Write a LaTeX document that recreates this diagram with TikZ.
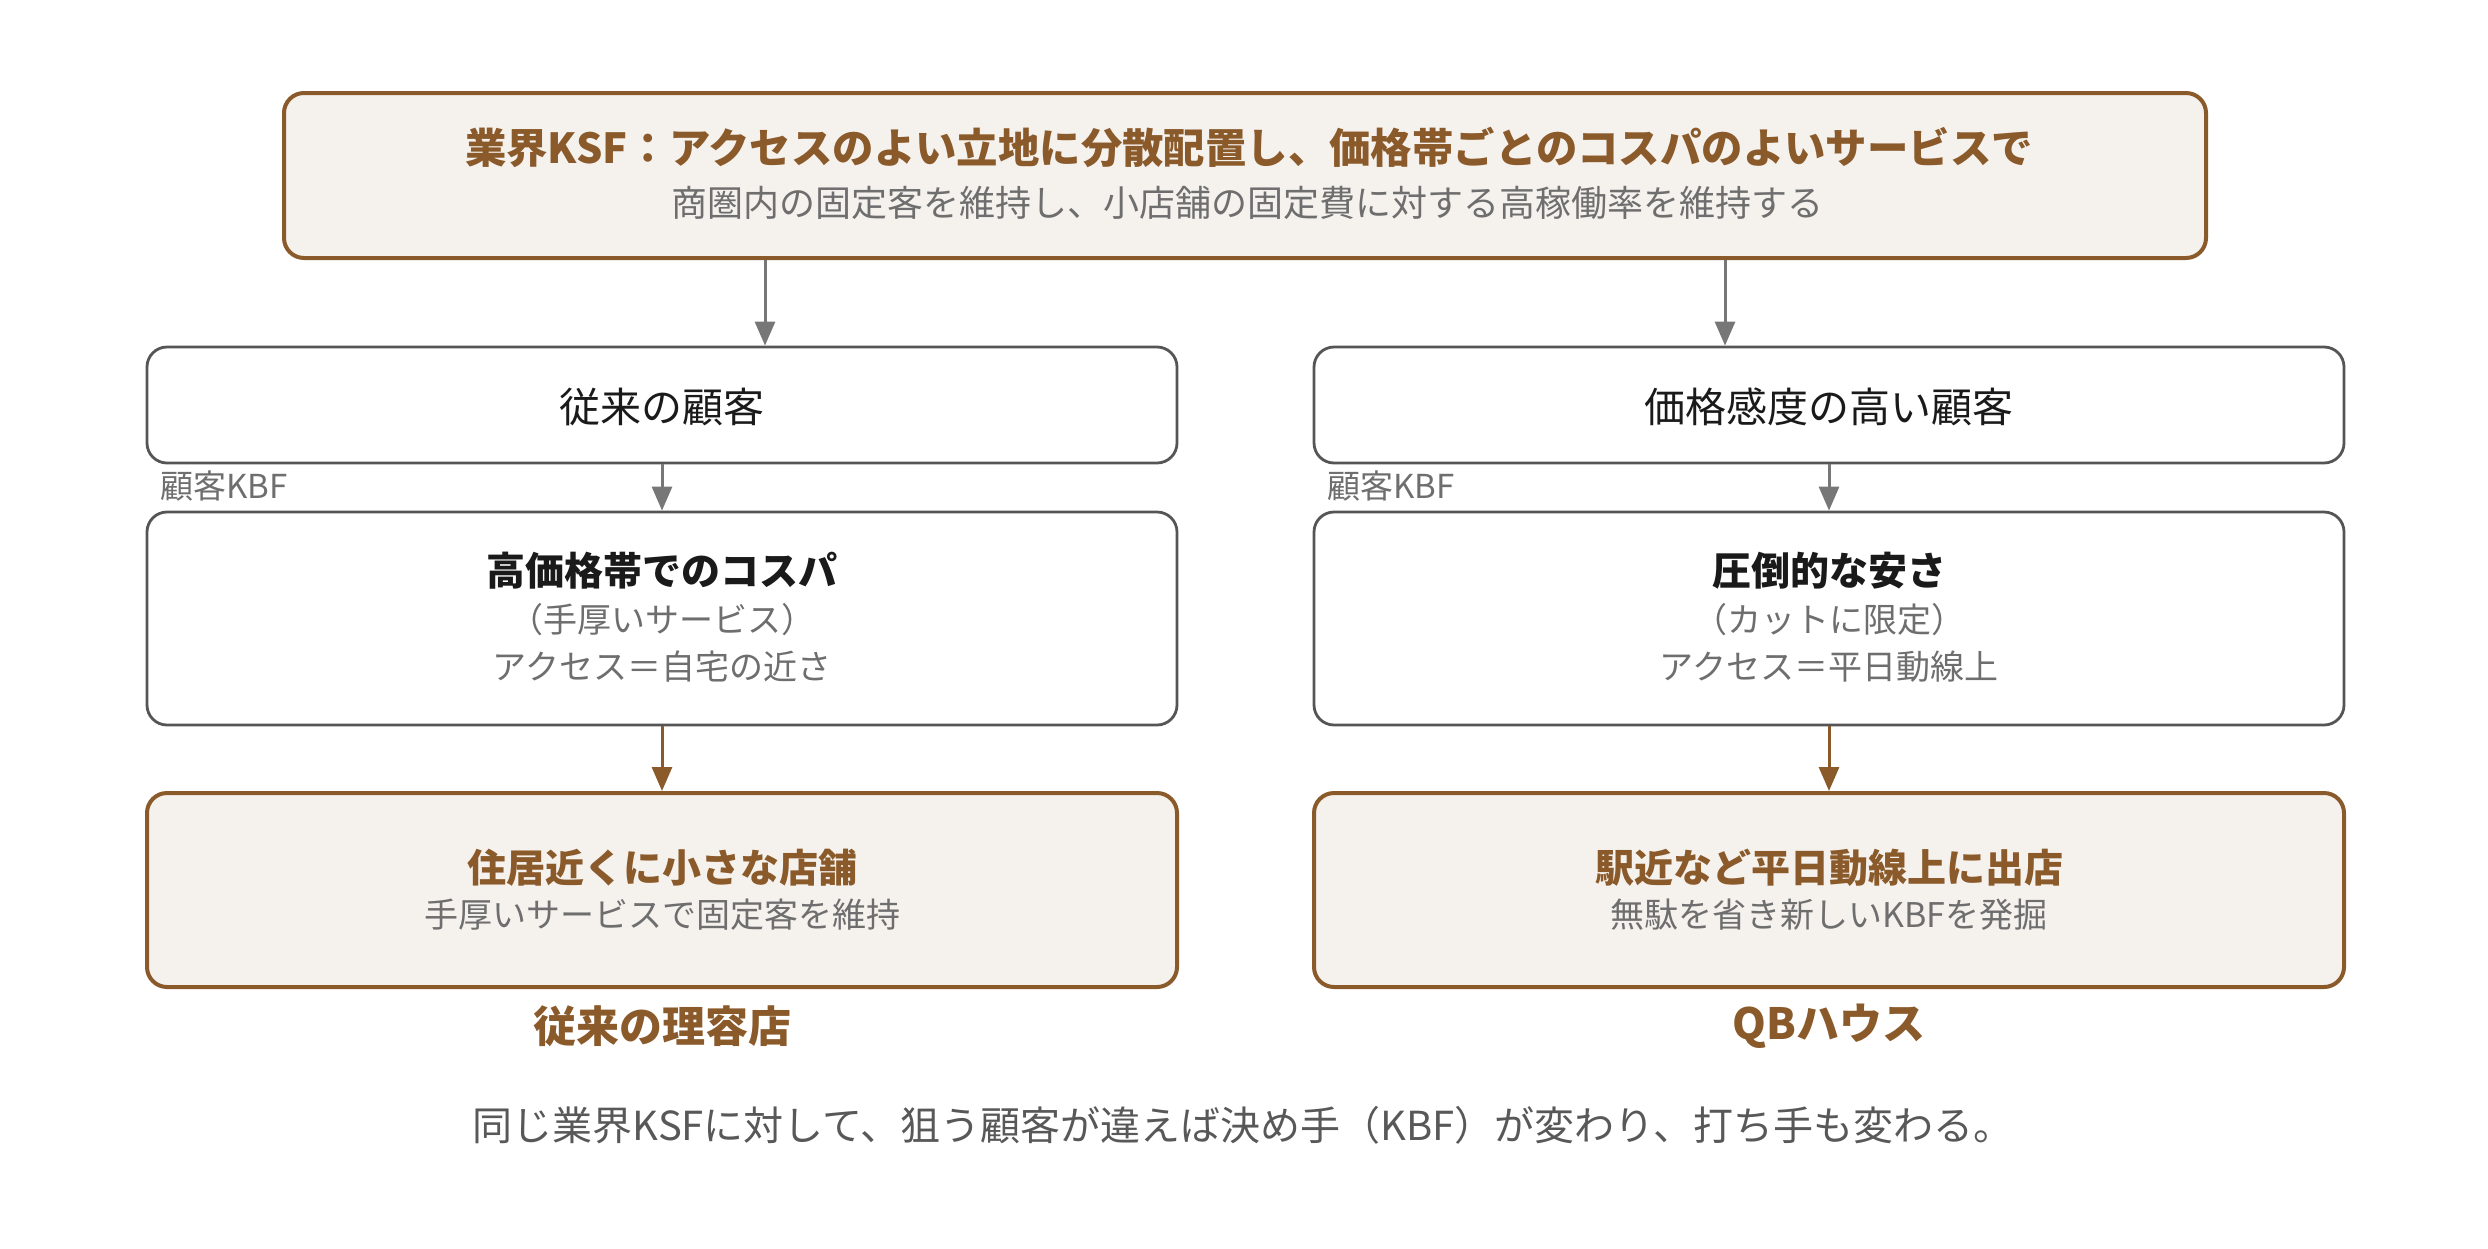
\documentclass[tikz,border=0pt]{standalone}
\usepackage{fontspec}
\setmainfont{Noto Sans CJK JP}
\usetikzlibrary{arrows.meta}
\definecolor{brn}{HTML}{8B5A2B}
\definecolor{beige}{HTML}{F5F2EE}
\definecolor{gline}{HTML}{777777}
\definecolor{bline}{HTML}{555555}
\definecolor{gtext}{HTML}{6E6E6E}
\definecolor{ktext}{HTML}{1A1A1A}
\tikzset{
  brownbox/.style={draw=brn, line width=2pt, fill=beige, rounded corners=10pt, inner sep=0pt},
  whitebox/.style={draw=bline, line width=1.4pt, fill=white, rounded corners=10pt, inner sep=0pt},
  garr/.style={draw=gline, line width=1.5pt, -{Triangle[length=12pt,width=10pt]}},
  barr/.style={draw=brn, line width=1.5pt, -{Triangle[length=12pt,width=10pt]}},
  txt/.style={inner sep=0pt, anchor=center},
  fs/.style={font=\fontsize{#1}{#1}\selectfont},
  fsb/.style={font=\fontsize{#1}{#1}\selectfont\bfseries}
}
\begin{document}
\begin{tikzpicture}[x=0.5pt,y=-0.5pt]
\useasboundingbox (0,0) rectangle (2488,1248);
% top box
\node[brownbox, minimum width=961pt, minimum height=82.5pt] (top) at (1245,175.5) {};
\node[txt, fsb=20.7pt, text=brn] (toptitle) at (1249,147) {業界KSF：アクセスのよい立地に分散配置し、価格帯ごとのコスパのよいサービスで};
\node[txt, fs=18pt, text=gtext] (topsub) at (1247,203) {商圏内の固定客を維持し、小店舗の固定費に対する高稼働率を維持する};
% row 1
\node[whitebox, minimum width=515pt, minimum height=58pt] (l1) at (662,405) {};
\node[whitebox, minimum width=515pt, minimum height=58pt] (r1) at (1829,405) {};
\node[txt, fs=20.5pt, text=ktext] (l1t) at (662,407) {従来の顧客};
\node[txt, fs=20.5pt, text=ktext] (r1t) at (1829,407) {価格感度の高い顧客};
% KBF labels
\node[inner sep=0pt, anchor=west, fs=16.5pt, text=gtext] (lk) at (160,486) {顧客KBF};
\node[inner sep=0pt, anchor=west, fs=16.5pt, text=gtext] (rk) at (1327,486) {顧客KBF};
% row 2
\node[whitebox, minimum width=515pt, minimum height=106.5pt] (l2) at (662,618.5) {};
\node[whitebox, minimum width=515pt, minimum height=106.5pt] (r2) at (1829,618.5) {};
\node[txt, fsb=19.5pt, text=ktext] (l2a) at (662,571) {高価格帯でのコスパ};
\node[txt, fs=17pt, text=gtext] (l2b) at (662,620) {（手厚いサービス）};
\node[txt, fs=17pt, text=gtext] (l2c) at (662,667) {アクセス＝自宅の近さ};
\node[txt, fsb=19.5pt, text=ktext] (r2a) at (1829,571) {圧倒的な安さ};
\node[txt, fs=17pt, text=gtext] (r2b) at (1829,620) {（カットに限定）};
\node[txt, fs=17pt, text=gtext] (r2c) at (1829,667) {アクセス＝平日動線上};
% row 3
\node[brownbox, minimum width=515pt, minimum height=97pt] (l3) at (662,890) {};
\node[brownbox, minimum width=515pt, minimum height=97pt] (r3) at (1829,890) {};
\node[txt, fsb=19.5pt, text=brn] (l3a) at (662,868) {住居近くに小さな店舗};
\node[txt, fs=17pt, text=gtext] (l3b) at (662,915) {手厚いサービスで固定客を維持};
\node[txt, fsb=19.5pt, text=brn] (r3a) at (1829,868) {駅近など平日動線上に出店};
\node[txt, fs=17pt, text=gtext] (r3b) at (1829,915) {無駄を省き新しいKBFを発掘};
% labels under
\node[txt, fsb=21.5pt, text=brn] (llab) at (662,1026) {従来の理容店};
\node[txt, fsb=21.5pt, text=brn] (rlab) at (1829,1026) {QBハウス};
% bottom
\node[txt, fs=20pt, text=gtext!80!black] (bottom) at (1243,1125) {同じ業界KSFに対して、狙う顧客が違えば決め手（KBF）が変わり、打ち手も変わる。};
% arrows
\coordinate (ax1) at (765,0);
\coordinate (ax2) at (1725,0);
\draw[garr] (top.south -| ax1) -- (l1.north -| ax1);
\draw[garr] (top.south -| ax2) -- (r1.north -| ax2);
\draw[garr] (l1.south) -- (l2.north);
\draw[garr] (r1.south) -- (r2.north);
\draw[barr] (l2.south) -- (l3.north);
\draw[barr] (r2.south) -- (r3.north);
\end{tikzpicture}
\end{document}
